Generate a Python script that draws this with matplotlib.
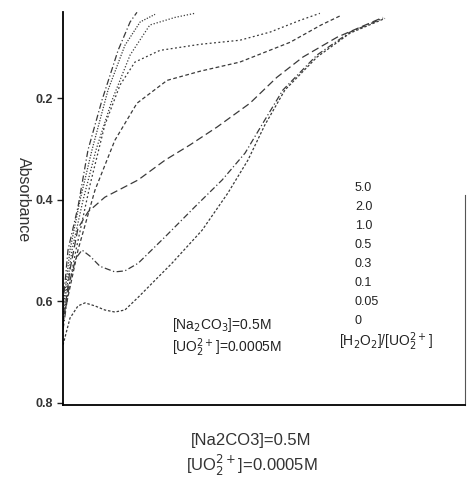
import numpy as np
import matplotlib
matplotlib.use('Agg')
import matplotlib.pyplot as plt

plt.rcParams['font.family'] = ['Liberation Sans', 'DejaVu Sans']

# wavelength axis (arbitrary units, no labels on the figure) and absorbance
x_50 = [0, 1.24, 3.73, 6.22, 9.7, 13.7, 16.7, 18.4]
a_50 = [0.607, 0.499, 0.414, 0.302, 0.204, 0.106, 0.050, 0.031]

x_20 = [0, 1.74, 4.23, 7.21, 11.2, 15.4, 19.2, 22.9]
a_20 = [0.617, 0.499, 0.401, 0.302, 0.184, 0.096, 0.050, 0.035]

x_10 = [0, 2.24, 4.98, 8.21, 12.2, 16.7, 21.6, 27.9, 32.8]
a_10 = [0.627, 0.499, 0.401, 0.302, 0.204, 0.115, 0.056, 0.041, 0.033]

x_05 = [0, 3.23, 6.72, 10.4, 14.2, 17.9, 24.1, 34.1, 44.0, 51.5, 58.9, 63.9]
a_05 = [0.633, 0.499, 0.371, 0.253, 0.174, 0.129, 0.106, 0.094, 0.086, 0.070, 0.047, 0.033]

x_03 = [0, 3.73, 7.96, 12.9, 18.4, 25.9, 34.1, 44.0, 56.5, 64.2, 69.2]
a_03 = [0.637, 0.499, 0.381, 0.283, 0.210, 0.165, 0.147, 0.129, 0.090, 0.056, 0.037]

x_01 = [0, 1.74, 3.73, 6.22, 10.4, 18.7, 25.4, 31.6, 38.3, 46.5, 53.2, 59.7, 68.2, 79.6]
a_01 = [0.647, 0.538, 0.456, 0.424, 0.395, 0.361, 0.322, 0.292, 0.257, 0.210, 0.159, 0.119, 0.080, 0.041]

x_005 = [0, 1.74, 3.23, 4.73, 6.72, 9.20, 12.9, 15.4, 18.7, 25.4, 32.8, 39.6, 45.3, 50.2, 54.7, 63.2, 71.4, 79.6]
a_005 = [0.656, 0.558, 0.515, 0.499, 0.511, 0.531, 0.542, 0.540, 0.525, 0.473, 0.414, 0.361, 0.308, 0.243, 0.184, 0.115, 0.070, 0.043]

x_0 = [0, 1.74, 3.73, 5.47, 7.96, 10.4, 12.9, 15.4, 18.7, 27.1, 34.6, 41.0, 46.0, 50.2, 55.2, 63.2, 71.4, 80.1]
a_0 = [0.686, 0.633, 0.609, 0.603, 0.609, 0.617, 0.621, 0.617, 0.592, 0.525, 0.460, 0.387, 0.322, 0.253, 0.184, 0.119, 0.072, 0.043]

ratios = ['5.0', '2.0', '1.0', '0.5', '0.3', '0.1', '0.05', '0']
yticks = [0.2, 0.4, 0.6, 0.8]

curves = [(x_50, a_50, (0, (5, 2, 1, 2))),
          (x_20, a_20, (0, (1, 1.2))),
          (x_10, a_10, (0, (1, 1.5))),
          (x_05, a_05, (0, (1.5, 2))),
          (x_03, a_03, (0, (3, 2))),
          (x_01, a_01, (0, (6, 3))),
          (x_005, a_005, (0, (5, 2, 1, 2))),
          (x_0, a_0, (0, (2, 1.5)))]

fig = plt.figure(figsize=(4.68, 4.86), dpi=100)
ax = fig.add_axes([0.1346, 0.1667, 0.859, 0.808])

for xs, ys, ls in curves:
    ax.plot(xs, ys, color='#3a3a3a', lw=0.9, linestyle=ls)

ax.set_xlim(0, 100)
ax.set_ylim(0.804, 0.031)
ax.set_xticks([])
ax.set_yticks(yticks)
ax.set_yticklabels(['%.1f' % t for t in yticks], fontsize=9, fontweight='bold', color='#333')
ax.tick_params(axis='y', length=4, width=1, direction='out', color='#222', pad=3)
ax.spines['top'].set_visible(False)
ax.spines['left'].set_linewidth(1.3)
ax.spines['bottom'].set_linewidth(1.3)
ax.spines['right'].set_linewidth(0.8)
ax.spines['right'].set_bounds(0.39, 0.804)
ax.spines['right'].set_color('#555')
ax.set_ylabel('Absorbance', fontsize=11.5, color='#333', rotation=270)
ax.yaxis.set_label_coords(-0.118, 0.524)

# concentration list on the right
for i, r in enumerate(ratios):
    ax.text(0.726, 0.552 - i * 0.0483, r, transform=ax.transAxes, fontsize=9, color='#222', va='center')
ax.text(0.686, 0.160, r'[H$_2$O$_2$]/[UO$_2^{2+}$]', transform=ax.transAxes,
        fontsize=10, color='#222', va='center')

ax.text(0.27, 0.204, r'[Na$_2$CO$_3$]=0.5M', transform=ax.transAxes, fontsize=10, color='#222', va='center')
ax.text(0.27, 0.145, r'[UO$_2^{2+}$]=0.0005M', transform=ax.transAxes, fontsize=10, color='#222', va='center')

fig.text(0.537, 0.094, '[Na2CO3]=0.5M', fontsize=12, color='#333', ha='center', va='center')
fig.text(0.537, 0.043, r'[UO$_2^{2+}$]=0.0005M', fontsize=12, color='#333', ha='center', va='center')

plt.savefig('out.png', dpi=100)
